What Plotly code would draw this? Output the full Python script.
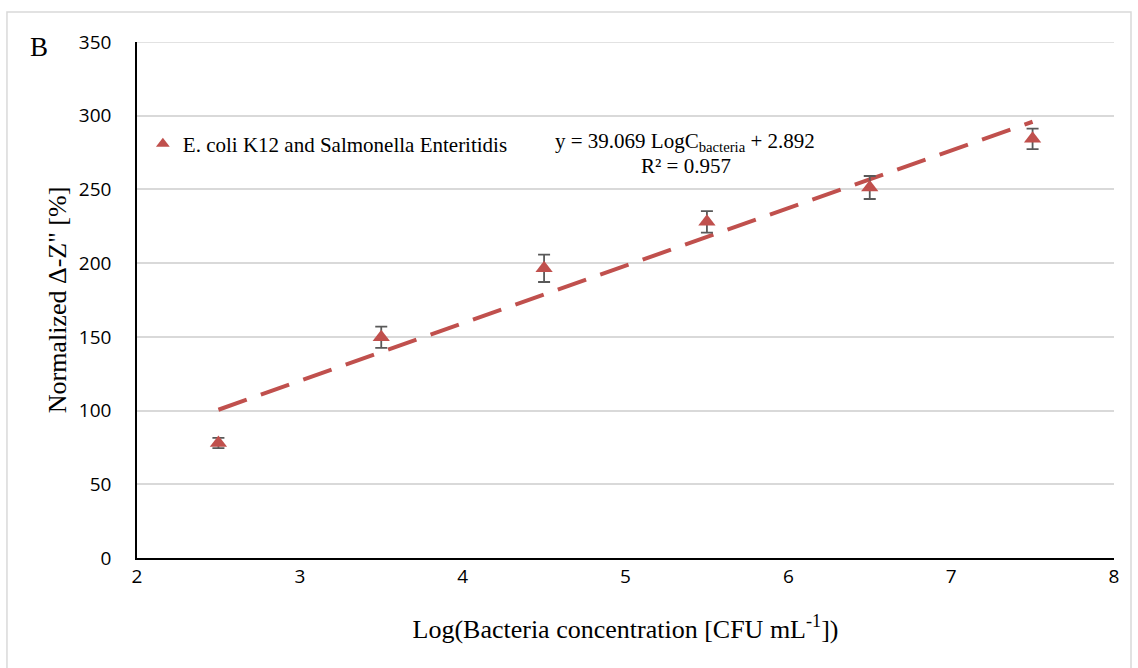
import plotly.graph_objects as go

# Measured response vs. log concentration
log_conc = [2.5, 3.5, 4.5, 5.5, 6.5, 7.5]
norm_dz = [78, 149.7, 196.5, 228, 251.3, 284.3]
err = [3.5, 7.2, 9.3, 7.3, 7.8, 7]

# Linear fit reported on the chart
slope = 39.069
intercept = 2.892
r2 = 0.957

red = "#c0504d"
serif = "Liberation Serif"
sans = "Open Sans"

fit_x = [log_conc[0], log_conc[-1]]
fit_y = [slope * x + intercept for x in fit_x]

fig = go.Figure()
fig.add_trace(go.Scatter(
    x=fit_x, y=fit_y, mode="lines",
    line=dict(color=red, width=4, dash="30px,15px"),
    showlegend=False, hoverinfo="skip",
))
fig.add_trace(go.Scatter(
    x=log_conc, y=norm_dz, mode="markers",
    name="E. coli K12 and Salmonella Enteritidis",
    marker=dict(symbol="triangle-up", size=15, color=red),
    error_y=dict(type="data", array=err, color="#595959", thickness=1.8, width=6),
))

fig.update_layout(
    width=1138, height=668,
    margin=dict(l=137, r=24, t=42, b=110),
    paper_bgcolor="white", plot_bgcolor="white",
    font=dict(family=sans, size=19, color="#000000"),
    showlegend=True,
    legend=dict(
        x=0.006, y=0.802, xanchor="left", yanchor="middle",
        bgcolor="rgba(0,0,0,0)",
        font=dict(family=serif, size=21, color="#000000"),
        itemwidth=30, itemsizing="constant",
    ),
    xaxis=dict(
        range=[2, 8], dtick=1, tick0=2,
        showgrid=False, zeroline=False,
        showline=True, linecolor="#000000", linewidth=1.5,
        ticks="", ticklen=0,
        tickfont=dict(family=sans, size=19, color="#000000"),
        title=dict(
            text="Log(Bacteria concentration [CFU mL<sup>-1</sup>])",
            font=dict(family=serif, size=26, color="#000000"),
            standoff=32,
        ),
    ),
    yaxis=dict(
        range=[0, 350], dtick=50,
        showgrid=True, gridcolor="#d9d9d9", gridwidth=1.5,
        zeroline=False,
        showline=True, linecolor="#000000", linewidth=1.5,
        ticks="", ticklen=0, ticklabelstandoff=20,
        tickfont=dict(family=sans, size=19, color="#000000"),
        title=dict(
            text="Normalized \u0394-Z\" [%]",
            font=dict(family=serif, size=26, color="#000000"),
            standoff=5,
        ),
    ),
    shapes=[
        dict(type="rect", xref="paper", yref="paper",
             x0=-0.1331, x1=1.0174, y0=-0.25, y1=1.058,
             line=dict(color="#d9d9d9", width=1.5), fillcolor="rgba(0,0,0,0)",
             layer="below"),
        dict(type="line", xref="paper", yref="y", x0=0, x1=1, y0=350, y1=350,
             line=dict(color="#d9d9d9", width=1.5), layer="below"),
    ],
    annotations=[
        dict(text="B", xref="paper", yref="paper", x=-0.1, y=0.99,
             xanchor="center", yanchor="middle", showarrow=False,
             font=dict(family=serif, size=27, color="#000000")),
        dict(text=f"y = {slope} LogC<sub>bacteria</sub> + {intercept}",
             xref="paper", yref="paper", x=0.561, y=0.806,
             xanchor="center", yanchor="middle", showarrow=False,
             font=dict(family=serif, size=21, color="#000000")),
        dict(text=f"R\u00b2 = {r2}",
             xref="paper", yref="paper", x=0.562, y=0.760,
             xanchor="center", yanchor="middle", showarrow=False,
             font=dict(family=serif, size=21, color="#000000")),
    ],
)

fig.write_html("out.html")
